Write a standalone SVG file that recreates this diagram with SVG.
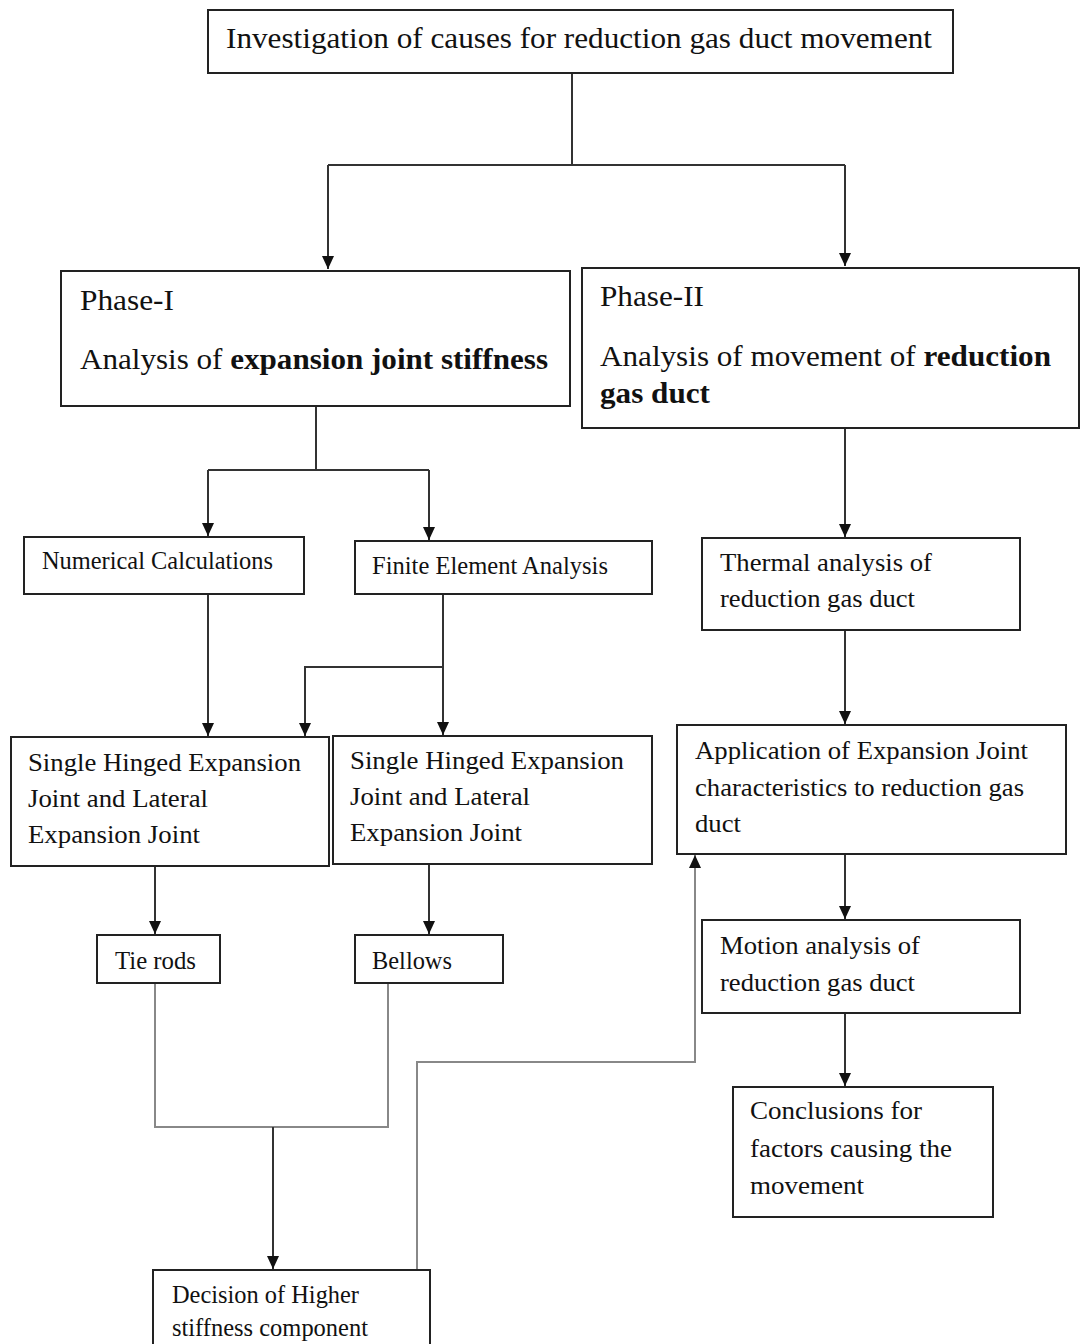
<svg xmlns="http://www.w3.org/2000/svg" width="1080" height="1344" viewBox="0 0 1080 1344">
<style>
.box{fill:#fff;stroke:#222;stroke-width:2}
.t{font-family:"Liberation Serif","Times New Roman",serif;fill:#111}
.big{font-size:30px}
.sm{font-size:26px}
.b{font-weight:bold}
.c{fill:none;stroke:#333;stroke-width:2}
.g{fill:none;stroke:#888;stroke-width:2}
</style>
<defs>
<marker id="ah" markerUnits="userSpaceOnUse" markerWidth="14" markerHeight="14" refX="13" refY="7" orient="auto">
<path d="M0,1 L13,7 L0,13 z" fill="#111"/>
</marker>
</defs>
<rect width="1080" height="1344" fill="#fff"/>
<g id="connectors">
<path class="c" d="M572,73 V165 M328,165 H845"/>
<path class="c" d="M328,165 V269" marker-end="url(#ah)"/>
<path class="c" d="M845,165 V266" marker-end="url(#ah)"/>
<path class="c" d="M316,406 V470 M208,470 H429"/>
<path class="c" d="M208,470 V536" marker-end="url(#ah)"/>
<path class="c" d="M429,470 V540" marker-end="url(#ah)"/>
<path class="c" d="M208,594 V736" marker-end="url(#ah)"/>
<path class="c" d="M443,594 V735" marker-end="url(#ah)"/>
<path class="c" d="M443,667 H305 V736" marker-end="url(#ah)"/>
<path class="c" d="M155,866 V934" marker-end="url(#ah)"/>
<path class="c" d="M429,864 V934" marker-end="url(#ah)"/>
<path class="g" d="M155,983 V1127 H388 V983"/>
<path class="c" d="M273,1127 V1269" marker-end="url(#ah)"/>
<path class="g" d="M417,1270 V1062 H695 V855" marker-end="url(#ah)"/>
<path class="c" d="M845,428 V537" marker-end="url(#ah)"/>
<path class="c" d="M845,630 V724" marker-end="url(#ah)"/>
<path class="c" d="M845,854 V919" marker-end="url(#ah)"/>
<path class="c" d="M845,1013 V1086" marker-end="url(#ah)"/>
</g>
<g id="n-top">
<rect class="box" x="208" y="10" width="745" height="63"/>
<text class="t big" x="226" y="48" textLength="706" lengthAdjust="spacingAndGlyphs">Investigation of causes for reduction gas duct movement</text>
</g>
<g id="n-phase1">
<rect class="box" x="61" y="271" width="509" height="135"/>
<text class="t big" x="80" y="310" textLength="94" lengthAdjust="spacingAndGlyphs">Phase-I</text>
<text class="t big" x="80" y="369" textLength="468" lengthAdjust="spacingAndGlyphs">Analysis of <tspan class="b">expansion joint stiffness</tspan></text>
</g>
<g id="n-phase2">
<rect class="box" x="582" y="268" width="497" height="160"/>
<text class="t big" x="600" y="306" textLength="104" lengthAdjust="spacingAndGlyphs">Phase-II</text>
<text class="t big" x="600" y="366" textLength="451" lengthAdjust="spacingAndGlyphs">Analysis of movement of <tspan class="b">reduction</tspan></text>
<text class="t big b" x="600" y="403" textLength="110" lengthAdjust="spacingAndGlyphs">gas duct</text>
</g>
<g id="n-numerical">
<rect class="box" x="24" y="537" width="280" height="57"/>
<text class="t sm" x="42" y="569" textLength="231" lengthAdjust="spacingAndGlyphs">Numerical Calculations</text>
</g>
<g id="n-fea">
<rect class="box" x="355" y="541" width="297" height="53"/>
<text class="t sm" x="372" y="574" textLength="236" lengthAdjust="spacingAndGlyphs">Finite Element Analysis</text>
</g>
<g id="n-shej1">
<rect class="box" x="11" y="737" width="318" height="129"/>
<text class="t sm" x="28" y="771" textLength="273" lengthAdjust="spacingAndGlyphs">Single Hinged Expansion</text>
<text class="t sm" x="28" y="807" textLength="180" lengthAdjust="spacingAndGlyphs">Joint and Lateral</text>
<text class="t sm" x="28" y="843" textLength="172" lengthAdjust="spacingAndGlyphs">Expansion Joint</text>
</g>
<g id="n-shej2">
<rect class="box" x="333" y="736" width="319" height="128"/>
<text class="t sm" x="350" y="769" textLength="274" lengthAdjust="spacingAndGlyphs">Single Hinged Expansion</text>
<text class="t sm" x="350" y="805" textLength="180" lengthAdjust="spacingAndGlyphs">Joint and Lateral</text>
<text class="t sm" x="350" y="841" textLength="172" lengthAdjust="spacingAndGlyphs">Expansion Joint</text>
</g>
<g id="n-tierods">
<rect class="box" x="97" y="935" width="123" height="48"/>
<text class="t sm" x="115" y="969" textLength="81" lengthAdjust="spacingAndGlyphs">Tie rods</text>
</g>
<g id="n-bellows">
<rect class="box" x="355" y="935" width="148" height="48"/>
<text class="t sm" x="372" y="969" textLength="80" lengthAdjust="spacingAndGlyphs">Bellows</text>
</g>
<g id="n-decision">
<rect class="box" x="153" y="1270" width="277" height="90"/>
<text class="t sm" x="172" y="1303" textLength="187" lengthAdjust="spacingAndGlyphs">Decision of Higher</text>
<text class="t sm" x="172" y="1336" textLength="196" lengthAdjust="spacingAndGlyphs">stiffness component</text>
</g>
<g id="n-thermal">
<rect class="box" x="702" y="538" width="318" height="92"/>
<text class="t sm" x="720" y="571" textLength="212" lengthAdjust="spacingAndGlyphs">Thermal analysis of</text>
<text class="t sm" x="720" y="607" textLength="195" lengthAdjust="spacingAndGlyphs">reduction gas duct</text>
</g>
<g id="n-application">
<rect class="box" x="677" y="725" width="389" height="129"/>
<text class="t sm" x="695" y="759" textLength="333" lengthAdjust="spacingAndGlyphs">Application of Expansion Joint</text>
<text class="t sm" x="695" y="796" textLength="329" lengthAdjust="spacingAndGlyphs">characteristics to reduction gas</text>
<text class="t sm" x="695" y="832" textLength="46" lengthAdjust="spacingAndGlyphs">duct</text>
</g>
<g id="n-motion">
<rect class="box" x="702" y="920" width="318" height="93"/>
<text class="t sm" x="720" y="954" textLength="200" lengthAdjust="spacingAndGlyphs">Motion analysis of</text>
<text class="t sm" x="720" y="991" textLength="195" lengthAdjust="spacingAndGlyphs">reduction gas duct</text>
</g>
<g id="n-conclusions">
<rect class="box" x="733" y="1087" width="260" height="130"/>
<text class="t sm" x="750" y="1119" textLength="172" lengthAdjust="spacingAndGlyphs">Conclusions for</text>
<text class="t sm" x="750" y="1157" textLength="202" lengthAdjust="spacingAndGlyphs">factors causing the</text>
<text class="t sm" x="750" y="1194" textLength="114" lengthAdjust="spacingAndGlyphs">movement</text>
</g>
</svg>
